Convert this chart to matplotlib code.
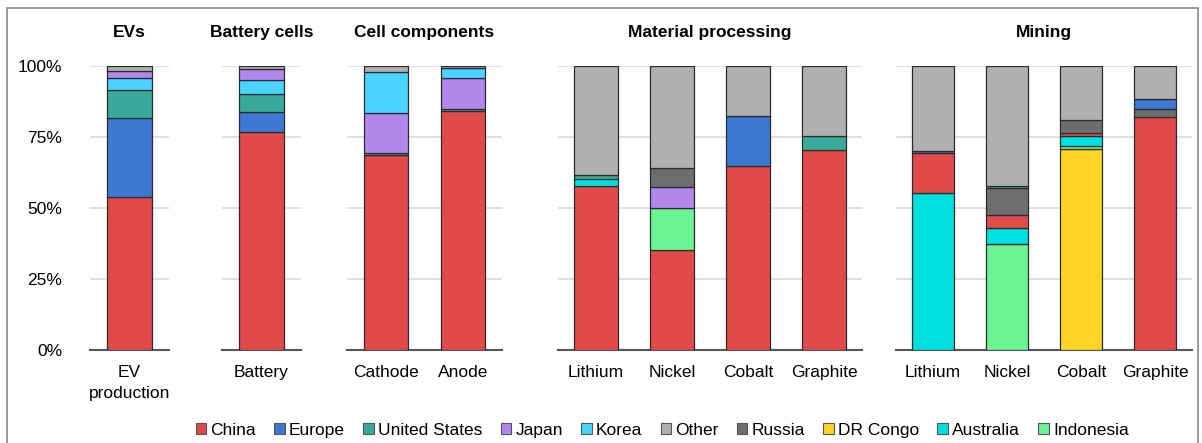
import matplotlib
matplotlib.use("Agg")

import matplotlib.pyplot as plt
from matplotlib.patches import Patch, Rectangle

plt.rcParams["font.family"] = ["Liberation Sans", "DejaVu Sans"]

# panels and the bars inside them
groups = ["EVs", "Battery cells", "Cell components", "Material processing", "Mining"]
group_bars = [
    ["EV\nproduction"],
    ["Battery"],
    ["Cathode", "Anode"],
    ["Lithium", "Nickel", "Cobalt", "Graphite"],
    ["Lithium", "Nickel", "Cobalt", "Graphite"],
]

# share of each country (%), one value per bar, in bar order across all panels
china = [54.0, 76.6, 68.7, 84.2, 57.9, 35.2, 64.8, 70.4, 14.0, 4.4, 1.1, 82.2]
europe = [27.6, 7.1, 0, 0, 0, 0, 17.6, 0, 0.8, 0, 0, 3.6]
united_states = [9.9, 6.6, 0.8, 0.6, 1.4, 0, 0, 5.0, 0, 0.6, 0, 0]
japan = [2.8, 3.9, 14.1, 10.9, 0, 7.6, 0, 0, 0, 0, 0, 0]
korea = [4.1, 4.8, 14.4, 3.5, 0, 0, 0, 0, 0, 0, 0, 0]
other = [1.6, 1.0, 2.0, 0.8, 38.4, 36.0, 17.6, 24.6, 30.0, 42.2, 19.0, 11.7]
russia = [0, 0, 0, 0, 0, 6.5, 0, 0, 0, 9.7, 4.5, 2.5]
dr_congo = [0, 0, 0, 0, 0, 0, 0, 0, 0, 0, 70.7, 0]
australia = [0, 0, 0, 0, 2.3, 0, 0, 0, 55.2, 5.9, 3.4, 0]
indonesia = [0, 0, 0, 0, 0, 14.7, 0, 0, 0, 37.2, 1.3, 0]

series = {
    "China": china,
    "Europe": europe,
    "United States": united_states,
    "Japan": japan,
    "Korea": korea,
    "Other": other,
    "Russia": russia,
    "DR Congo": dr_congo,
    "Australia": australia,
    "Indonesia": indonesia,
}
colors = {
    "China": "#e24a4a",
    "Europe": "#3d78d2",
    "United States": "#37aa9c",
    "Japan": "#b187ec",
    "Korea": "#4ad3ff",
    "Other": "#b0b0b0",
    "Russia": "#6d6f6e",
    "DR Congo": "#ffd424",
    "Australia": "#00e0e0",
    "Indonesia": "#6af494",
}

# stacking order (bottom to top) used in each panel
stack_order = [
    ["China", "Europe", "United States", "Korea", "Japan", "Other"],
    ["China", "Europe", "United States", "Korea", "Japan", "Other"],
    ["China", "Europe", "United States", "Japan", "Korea", "Other"],
    ["China", "Europe", "Australia", "Indonesia", "United States", "Japan", "Russia", "Other"],
    ["DR Congo", "Indonesia", "Australia", "China", "Russia", "Europe", "United States", "Other"],
]

W, H = 1202, 443
FS = 12.5
fig = plt.figure(figsize=(W / 100, H / 100), dpi=100)

# panel extents in pixels (left, right)
panel_px = [(90, 169), (222, 301), (347, 502), (558, 862), (896, 1192)]
y0_px, y100_px = 350, 66

start = 0
for gi, (name, bars) in enumerate(zip(groups, group_bars)):
    l, r = panel_px[gi]
    ax = fig.add_axes([l / W, (H - y0_px) / H, (r - l) / W, (y0_px - y100_px) / H])
    n = len(bars)
    x = list(range(n))
    bottoms = [0.0] * n
    for key in stack_order[gi]:
        vals = series[key][start:start + n]
        for i, v in enumerate(vals):
            if v > 0:
                ax.bar(x[i], v, bottom=bottoms[i], width=0.57,
                       color=colors[key], edgecolor="#2b2b2b", linewidth=0.9, zorder=3)
                bottoms[i] += v
    start += n

    ax.set_xlim(-0.5, n - 0.5)
    ax.set_ylim(0, 100)
    ax.set_yticks([0, 25, 50, 75, 100])
    ax.yaxis.grid(True, color="#d9d9d9", linewidth=1.2, zorder=0)
    ax.set_axisbelow(True)
    for s in ["top", "right", "left"]:
        ax.spines[s].set_visible(False)
    ax.spines["bottom"].set_color("#555555")
    ax.spines["bottom"].set_linewidth(1.5)
    ax.set_xticks(x)
    ax.set_xticklabels(bars, fontsize=FS, linespacing=1.5, va="top")
    ax.tick_params(axis="x", length=0, pad=11)
    if gi == 0:
        ax.set_yticklabels(["0%", "25%", "50%", "75%", "100%"], fontsize=FS)
        ax.tick_params(axis="y", length=0, pad=20)
    else:
        ax.tick_params(axis="y", length=0, labelleft=False)
    ax.set_title(name, fontsize=FS, fontweight="bold", pad=21)

handles = [Patch(facecolor=colors[k], edgecolor="#555555", linewidth=0.8) for k in series]
fig.legend(handles, list(series.keys()), loc="center", bbox_to_anchor=(0.551, 0.028),
           ncol=10, frameon=False, fontsize=FS, handlelength=0.6, handleheight=0.6,
           handletextpad=0.25, columnspacing=1.05)

fig.patches.append(Rectangle((7 / W, -0.02), (1198 - 7) / W, 1.0 - 8 / H + 0.02,
                             transform=fig.transFigure, fill=False,
                             edgecolor="#8a8a8a", linewidth=1.2))

fig.savefig("out.png", dpi=100)
